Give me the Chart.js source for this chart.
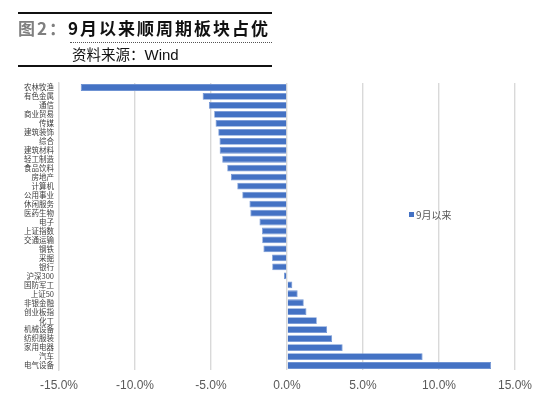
<!DOCTYPE html>
<html>
<head>
<meta charset="utf-8">
<script src="https://cdn.jsdelivr.net/npm/chart.js@4"></script>
<style>
  html,body{margin:0;padding:0;background:#fff;}
  #wrap{position:relative;width:550px;height:403px;overflow:hidden;}
  #c{position:absolute;left:0;top:0;}
  .line{position:absolute;left:18px;width:254px;background:#111;}
  #title{position:absolute;left:18px;top:17px;font-family:"Noto Sans CJK SC",sans-serif;font-weight:700;font-size:17px;line-height:22px;color:#111;letter-spacing:2px;white-space:nowrap;}
  #title .g{color:#7f7f7f;}
  #dots{position:absolute;left:70px;top:42px;width:202px;border-top:1.5px dotted #555;}
  #src{position:absolute;left:72px;top:45px;font-family:"Noto Sans CJK SC",sans-serif;font-size:14.5px;line-height:18px;color:#111;white-space:nowrap;}
  #src .w{font-family:"Liberation Sans",Arial,sans-serif;font-size:15px;}
</style>
</head>
<body>
<div id="wrap">
  <canvas id="c" width="550" height="403"></canvas>
  <div class="line" style="top:12px;height:2px;"></div>
  <div id="title"><span class="g">图2：</span>9月以来顺周期板块占优</div>
  <div id="dots"></div>
  <div id="src">资料来源：<span class="w">Wind</span></div>
  <div class="line" style="top:65px;height:2px;"></div>
</div>
<script>
const categories = ["农林牧渔","有色金属","通信","商业贸易","传媒","建筑装饰","综合","建筑材料","轻工制造","食品饮料","房地产","计算机","公用事业","休闲服务","医药生物","电子","上证指数","交通运输","钢铁","采掘","银行","沪深300","国防军工","上证50","非银金融","创业板指","化工","机械设备","纺织服装","家用电器","汽车","电气设备"];
const seriesName = "9月以来";
const values = [-13.57,-5.55,-5.14,-4.79,-4.70,-4.52,-4.44,-4.43,-4.26,-3.93,-3.69,-3.27,-2.94,-2.47,-2.41,-1.81,-1.64,-1.63,-1.55,-0.98,-0.97,-0.20,0.35,0.70,1.10,1.28,1.96,2.64,2.97,3.66,8.92,13.42];
const tickValues = [-15,-10,-5,0,5,10,15];

const legendPlugin = {
  id: 'innerLegend',
  afterDatasetsDraw(chart) {
    const ctx = chart.ctx;
    const ds = chart.data.datasets[0];
    ctx.save();
    ctx.fillStyle = ds.backgroundColor;
    ctx.fillRect(409, 212, 5, 5);
    ctx.fillStyle = '#595959';
    ctx.font = '10px "Noto Sans CJK SC", sans-serif';
    ctx.textBaseline = 'middle';
    ctx.textAlign = 'left';
    ctx.fillText(ds.label, 416, 215);
    ctx.restore();
  }
};

new Chart(document.getElementById('c'), {
  type: 'bar',
  data: {
    labels: categories,
    datasets: [{
      label: seriesName,
      data: values,
      backgroundColor: '#4472C4',
      borderColor: '#6f93d3',
      borderWidth: 0.8,
      categoryPercentage: 0.8,
      barPercentage: 0.95
    }]
  },
  options: {
    indexAxis: 'y',
    responsive: false,
    animation: false,
    devicePixelRatio: 1,
    layout: { padding: { top: 83, left: 0, right: 35, bottom: 8 } },
    plugins: { legend: { display: false }, tooltip: { enabled: false } },
    scales: {
      x: {
        min: -15, max: 15,
        afterBuildTicks(scale) { scale.ticks = tickValues.map(v => ({ value: v })); },
        afterFit(scale) { scale.height = 25; },
        grid: { color: '#d9d9d9', lineWidth: 1.4, drawTicks: false },
        border: { display: false },
        ticks: {
          padding: 8,
          color: '#595959',
          font: { family: '"Liberation Sans", Arial, sans-serif', size: 12 },
          callback: v => v.toFixed(1) + '%'
        }
      },
      y: {
        afterFit(scale) { scale.width = 59; },
        grid: { display: false, drawTicks: false },
        border: { display: true, color: '#d9d9d9', width: 1.4 },
        ticks: {
          autoSkip: false,
          padding: 5,
          color: '#404040',
          font: { family: '"Noto Sans CJK SC", sans-serif', size: 7.5 }
        }
      }
    }
  },
  plugins: [legendPlugin]
});
</script>
</body>
</html>
